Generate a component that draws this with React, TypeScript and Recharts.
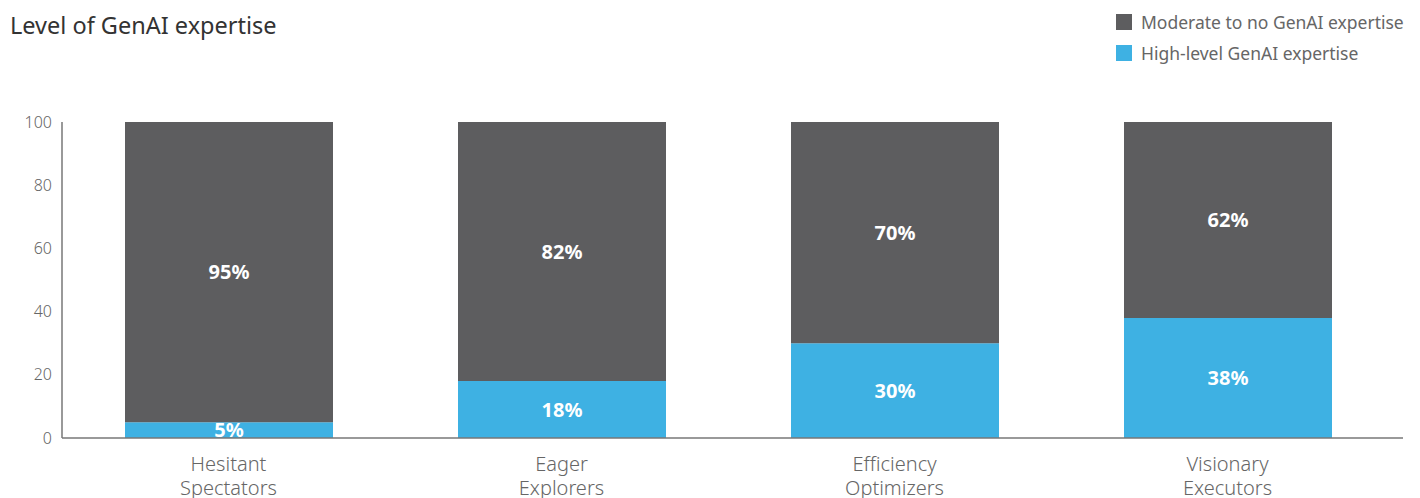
import React from 'react';
import { BarChart, Bar, XAxis, YAxis, LabelList } from 'recharts';

const categories = ['Hesitant Spectators', 'Eager Explorers', 'Efficiency Optimizers', 'Visionary Executors'];
const highLevel = [5, 18, 30, 38];
const moderateToNone = [95, 82, 70, 62];
const yTicks = [0, 20, 40, 60, 80, 100];

const chartData = categories.map((name, i) => ({
  name,
  high: highLevel[i],
  moderate: moderateToNone[i],
}));

const DARK = '#5d5d5f';
const BLUE = '#3eb1e3';
const FONT = '"Noto Sans", "Open Sans", sans-serif';

// two-line category label, one <text> per line
const CategoryTick = (props: any) => {
  const { x, y, payload } = props;
  const words = String(payload.value).split(' ');
  return (
    <g>
      {words.map((w, i) => (
        <text key={i} x={x} y={y + 25 + i * 24} textAnchor="middle" fill="#666" fontSize={20} fontFamily={FONT} fontWeight={300}>
          {w}
        </text>
      ))}
    </g>
  );
};

const legendItems = [
  { label: 'Moderate to no GenAI expertise', color: DARK },
  { label: 'High-level GenAI expertise', color: BLUE },
];

export default function App() {
  return (
    <div style={{ position: 'absolute', left: 0, top: 0, width: 1420, height: 498, background: '#fff', overflow: 'hidden' }}>
      <div style={{ position: 'absolute', left: 10, top: 9, fontFamily: FONT, fontSize: 23.5, color: '#333' }}>
        Level of GenAI expertise
      </div>
      <div style={{ position: 'absolute', left: 1116, top: 6, fontFamily: FONT }}>
        {legendItems.map((it) => (
          <div key={it.label} style={{ display: 'flex', alignItems: 'center', height: 31, color: '#666', fontSize: 17.5, whiteSpace: 'nowrap' }}>
            <span style={{ width: 16, height: 16, background: it.color, marginRight: 9, display: 'inline-block' }} />
            {it.label}
          </div>
        ))}
      </div>
      <BarChart
        width={1420}
        height={498}
        data={chartData}
        margin={{ top: 122, right: 17, bottom: 0, left: 0 }}
        style={{ position: 'absolute', left: 0, top: 0 }}
      >
        <XAxis
          dataKey="name"
          height={60}
          axisLine={{ stroke: '#777', strokeWidth: 1.5 }}
          tickLine={false}
          tick={<CategoryTick />}
          padding={{ left: 0, right: 9 }}
          interval={0}
        />
        <YAxis
          width={62}
          domain={[0, 100]}
          ticks={yTicks}
          axisLine={{ stroke: '#777', strokeWidth: 1.5 }}
          tickLine={false}
          tickSize={0}
          tickMargin={10}
          tick={{ fill: '#666', fontSize: 16, fontFamily: FONT, fontWeight: 300 }}
        />
        <Bar dataKey="high" stackId="a" fill={BLUE} barSize={208} isAnimationActive={false}>
          <LabelList dataKey="high" position="center" formatter={(v: any) => `${v}%`} fill="#fff" fontSize={20} fontWeight={700} fontFamily={FONT} />
        </Bar>
        <Bar dataKey="moderate" stackId="a" fill={DARK} barSize={208} isAnimationActive={false}>
          <LabelList dataKey="moderate" position="center" formatter={(v: any) => `${v}%`} fill="#fff" fontSize={20} fontWeight={700} fontFamily={FONT} />
        </Bar>
      </BarChart>
    </div>
  );
}
